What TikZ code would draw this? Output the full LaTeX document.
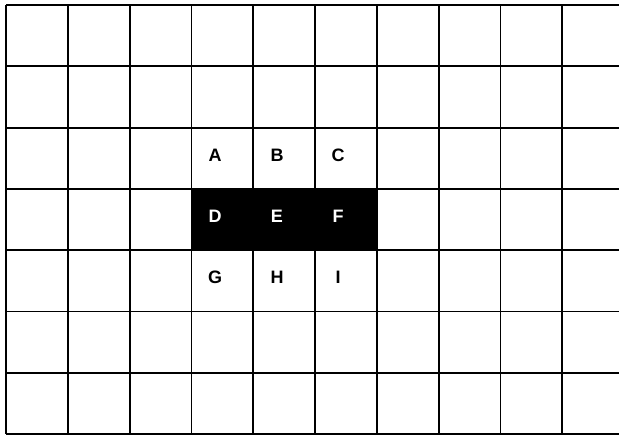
\documentclass[tikz,border=0pt]{standalone}
\usepackage{fontspec}
\setmainfont{Liberation Sans}
\tikzset{
  gridline/.style={line width=1.8pt, black},
  letter/.style={font=\bfseries\fontsize{18}{18}\selectfont, inner sep=0pt},
  lightletter/.style={letter, text=black},
  darkletter/.style={letter, text=white},
}
\begin{document}
\begin{tikzpicture}[x=1pt,y=-1pt]
\useasboundingbox (0,0) rectangle (619,436);
\fill[white] (0,0) rectangle (619,436);
% black band D E F
\fill[black] (191.4,188.9) rectangle (376.8,250.2);
% vertical lines
\foreach \i in {0,...,9} {
  \draw[gridline] ({6+61.8*\i},5) -- ({6+61.8*\i},434.1);
}
% horizontal lines
\foreach \j in {0,...,7} {
  \draw[gridline] (6,{5+61.3*\j}) -- (619,{5+61.3*\j});
}
% letters
\node[lightletter] (A) at (215,155) {A};
\node[lightletter] (B) at (277,155) {B};
\node[lightletter] (C) at (338,155) {C};
\node[darkletter]  (D) at (215,216) {D};
\node[darkletter]  (E) at (277,216) {E};
\node[darkletter]  (F) at (338,216) {F};
\node[lightletter] (G) at (215,277) {G};
\node[lightletter] (H) at (277,277) {H};
\node[lightletter] (I) at (338,277) {I};
\end{tikzpicture}
\end{document}
